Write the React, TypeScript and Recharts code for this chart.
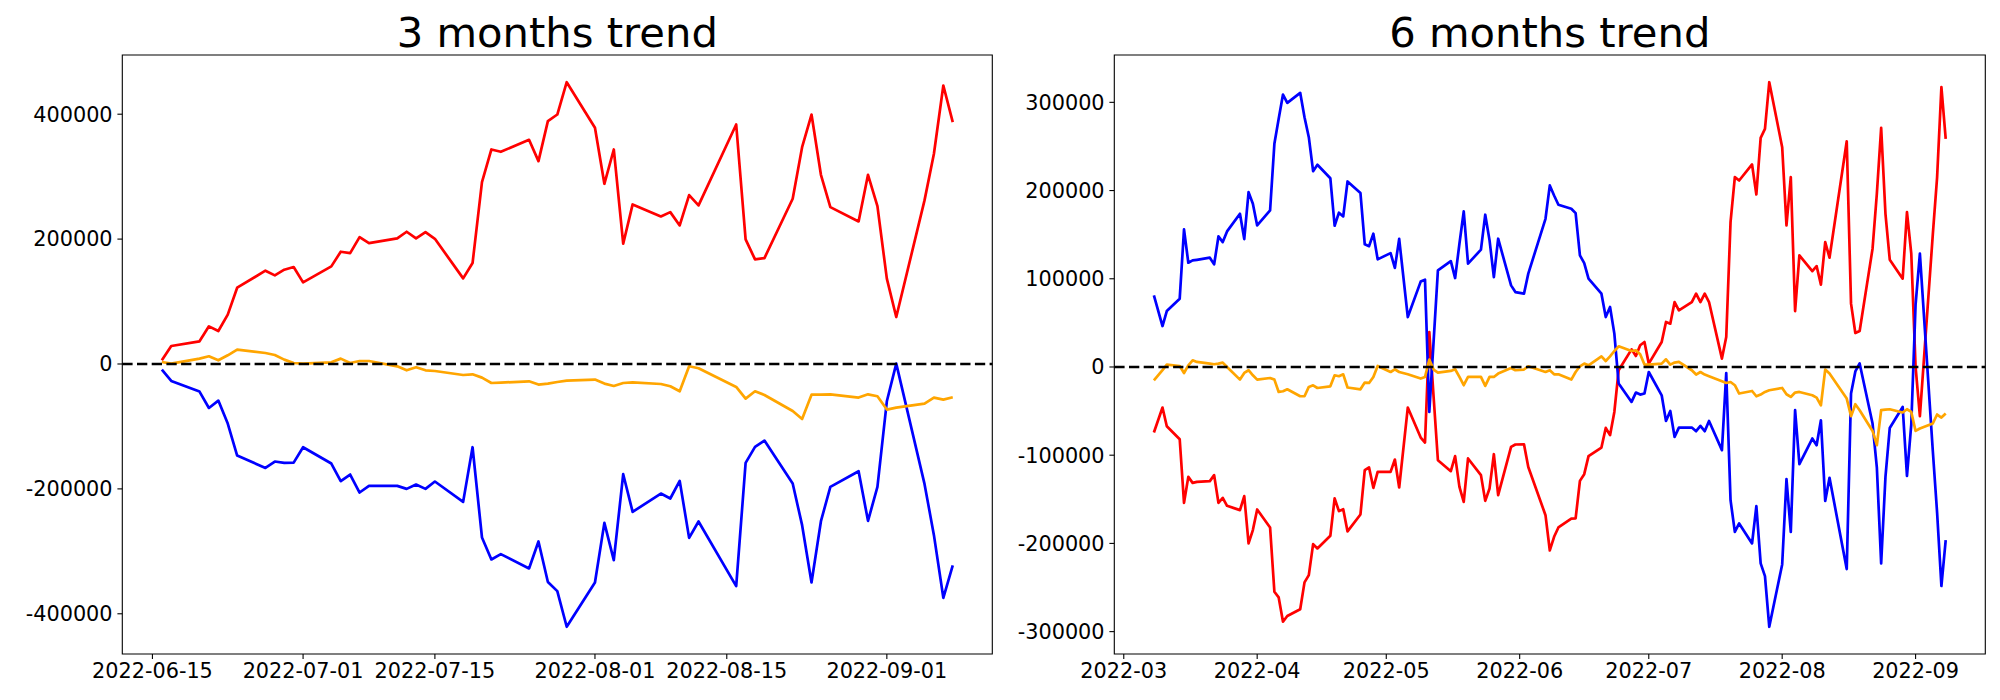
import { LineChart, Line, XAxis, YAxis, ReferenceLine, ReferenceArea } from 'recharts';

// trading days, 3 month window
const dates3m = [
  '2022-06-16', '2022-06-17', '2022-06-20', '2022-06-21', '2022-06-22', '2022-06-23', '2022-06-24',
  '2022-06-27', '2022-06-28', '2022-06-29', '2022-06-30', '2022-07-01', '2022-07-04', '2022-07-05',
  '2022-07-06', '2022-07-07', '2022-07-08', '2022-07-11', '2022-07-12', '2022-07-13', '2022-07-14',
  '2022-07-15', '2022-07-18', '2022-07-19', '2022-07-20', '2022-07-21', '2022-07-22', '2022-07-25',
  '2022-07-26', '2022-07-27', '2022-07-28', '2022-07-29', '2022-08-01', '2022-08-02', '2022-08-03',
  '2022-08-04', '2022-08-05', '2022-08-08', '2022-08-09', '2022-08-10', '2022-08-11', '2022-08-12',
  '2022-08-16', '2022-08-17', '2022-08-18', '2022-08-19', '2022-08-22', '2022-08-23', '2022-08-24',
  '2022-08-25', '2022-08-26', '2022-08-29', '2022-08-30', '2022-08-31', '2022-09-01', '2022-09-02',
  '2022-09-05', '2022-09-06', '2022-09-07', '2022-09-08',
];
const red3m = [
  5900, 28800, 36300, 60300, 52800, 79000, 122200, 149400, 141900, 151000, 155200, 130700,
  156300, 179800, 177600, 203200, 193600, 201100, 211800, 201100, 211000, 200500,
  137100, 161600, 291200, 343500, 339800, 359000, 324800, 389000, 399500, 451200,
  378200, 288600, 343500, 192600, 255500, 236300, 243200, 221900, 270400, 253900,
  383500, 199500, 167500, 169600, 264600, 347200, 399500, 303000, 251200,
  228300, 303000, 252800, 136600, 75200, 262000, 336600, 445900, 387200,
];
const blue3m = [
  -9000, -27200, -44200, -70400, -58600, -95400, -146600, -166400, -156200, -158400, -158000, -133300,
  -159400, -187700, -177000, -205800, -195200, -195200, -200000, -193000, -200000, -188200,
  -220800, -133300, -277800, -313000, -304500, -327400, -284200, -349000, -363700, -420800,
  -349800, -254400, -314100, -176500, -236800, -207400, -215400, -187200, -278400, -252200,
  -355700, -158400, -132800, -122600, -191400, -258100, -349800, -251700, -196800,
  -171700, -251200, -196800, -59700, 600, -192000, -274100, -374400, -322600,
];
const orange3m = [
  3200, 600, 8600, 12300, 5900, 13900, 23000, 17600, 14400, 7000, 1600, 600,
  2700, 8600, 1600, 4800, 4800, -3700, -10100, -5300, -10100, -11200,
  -17600, -16500, -21800, -30400, -29900, -27700, -33000, -31500, -28800, -26600,
  -25000, -31400, -35200, -30400, -29300, -32000, -35700, -43700, -3700, -6900,
  -36800, -55400, -43700, -49600, -75200, -88000, -49100, -49100, -48600,
  -53800, -48600, -51700, -73000, -69800, -63400, -53800, -57000, -53300,
];

// trading days, 6 month window
const dates6m = [
  '2022-03-08', '2022-03-10', '2022-03-11', '2022-03-14', '2022-03-15', '2022-03-16', '2022-03-17',
  '2022-03-18', '2022-03-21', '2022-03-22', '2022-03-23', '2022-03-24', '2022-03-25', '2022-03-28',
  '2022-03-29', '2022-03-30', '2022-03-31',
  '2022-04-01', '2022-04-04', '2022-04-05', '2022-04-06', '2022-04-07', '2022-04-08', '2022-04-11',
  '2022-04-12', '2022-04-13', '2022-04-14', '2022-04-15', '2022-04-18', '2022-04-19', '2022-04-20',
  '2022-04-21', '2022-04-22', '2022-04-25', '2022-04-26', '2022-04-27', '2022-04-28', '2022-04-29',
  '2022-05-02', '2022-05-03', '2022-05-04', '2022-05-06', '2022-05-09', '2022-05-10', '2022-05-11',
  '2022-05-12', '2022-05-13', '2022-05-16', '2022-05-17', '2022-05-18', '2022-05-19', '2022-05-20',
  '2022-05-23', '2022-05-24', '2022-05-25', '2022-05-26', '2022-05-27', '2022-05-30', '2022-05-31',
  '2022-06-02', '2022-06-03', '2022-06-07', '2022-06-08', '2022-06-09', '2022-06-10', '2022-06-13',
  '2022-06-14', '2022-06-15', '2022-06-16', '2022-06-17', '2022-06-20', '2022-06-21', '2022-06-22',
  '2022-06-23', '2022-06-24', '2022-06-27', '2022-06-28', '2022-06-29', '2022-06-30',
  '2022-07-01', '2022-07-04', '2022-07-05', '2022-07-06', '2022-07-07', '2022-07-08', '2022-07-11',
  '2022-07-12', '2022-07-13', '2022-07-14', '2022-07-15', '2022-07-18', '2022-07-19', '2022-07-20',
  '2022-07-21', '2022-07-22', '2022-07-25', '2022-07-26', '2022-07-27', '2022-07-28', '2022-07-29',
  '2022-08-01', '2022-08-02', '2022-08-03', '2022-08-04', '2022-08-05', '2022-08-08', '2022-08-09',
  '2022-08-10', '2022-08-11', '2022-08-12', '2022-08-16', '2022-08-17', '2022-08-18', '2022-08-19',
  '2022-08-22', '2022-08-23', '2022-08-24', '2022-08-25', '2022-08-26', '2022-08-29', '2022-08-30',
  '2022-08-31',
  '2022-09-01', '2022-09-02', '2022-09-05', '2022-09-06', '2022-09-07', '2022-09-08',
];
const red6m = [
  // Mar
  -74300, -46000, -67200, -81900, -154000, -124600, -131400, -130200, -129400, -122600, -154000,
  -148400, -157400, -162300, -146400, -200000, -184900,
  // Apr
  -161500, -181900, -254800, -261200, -288800, -282300, -274700, -244200, -235900, -200800, -205700,
  -191400, -149000, -163400, -161200, -186400, -167200, -117000, -113900, -137000, -118900,
  // May
  -118900, -104900, -136600, -46000, -80000, -85600, 39600, -34000, -105700, -118100, -101100,
  -135900, -152900, -103700, -122600, -151800, -137700, -98900, -145300, -90600, -87900,
  // Jun
  -87600, -113300, -168000, -208000, -192500, -181900, -172000, -171700, -129100, -121500, -101100,
  -91300, -69100, -77300, -51000, -3700, 20000, 12500, 24600, 28300,
  // Jul
  3800, 28300, 51000, 49100, 73600, 64200, 73600, 83100, 73600, 83100, 73600,
  9500, 34000, 164200, 215200, 211400, 229600, 195600, 259800, 270000, 322800,
  // Aug
  249200, 160500, 215200, 63400, 126500, 108700, 114400, 93300, 141600, 123900, 255900,
  71800, 38500, 40800, 134100, 196400, 271100, 173700, 121600, 100100, 175500, 128400,
  // Sep
  0, -55800, 150000, 215000, 317200, 258700,
];
const blue6m = [
  81200, 46400, 63400, 77400, 155900, 118200, 120800, 121500, 123900, 116300, 148000,
  141600, 153700, 173700, 145000, 198200, 185000,
  160500, 177500, 253000, 281300, 308800, 299400, 310800, 283100, 260500, 222000, 229200,
  214000, 160100, 174900, 170700, 210300, 197100, 139000, 137000, 151100, 122000,
  129100, 112300, 145200, 56600, 96800, 99000, -51000, 29000, 109500, 120000, 100800,
  139700, 176300, 117100, 133000, 172600, 143500, 101900, 145400, 92500, 84900,
  83100, 105800, 168000, 205800, 194400, 183900, 179400, 174400, 126500, 117800, 100100,
  83100, 56600, 68000, 37800, -18800, -39600, -29000, -31300, -30100,
  -5700, -32100, -61200, -49800, -79300, -68700, -68700, -72800, -66800, -72800, -61200,
  -94300, -6800, -151000, -186900, -177400, -200000, -157800, -222700, -237100, -294500,
  -223800, -127200, -186900, -49000, -110200, -81100, -88700, -60400, -151800, -125700, -229100,
  -30100, -5000, 4000, -64100, -114000, -222700, -124600, -69100, -45300, -123400, -65000,
  70800, 128600, -95000, -165000, -248300, -196300,
];
const orange6m = [
  -15100, -3700, 2700, 1100, -6800, 1900, 7600, 5700, 3800, 3100, 3800,
  5000, 0, -14300, -6800, -3700, -9400,
  -14300, -12500, -14300, -28300, -27500, -25300, -33200, -33200, -22600, -20800, -23800,
  -21900, -9400, -10500, -8300, -23300, -25300, -17700, -18100, -11300, 1100,
  -5700, -2600, -5700, -8300, -13100, -11300, 8400, -2900, -6300, -4500, -2600,
  -11300, -20700, -11300, -11300, -21500, -11300, -11300, -7500, -1100, -3700,
  -2900, 800, -5700, -3700, -8300, -8300, -14300, -5700, 800, 3800, 1900,
  12100, 6800, 12100, 18100, 23400, 18100, 18900, 14400, 2700,
  2700, 3800, 8700, 2700, 5000, 5700, -3700, -8600, -5700, -8600, -10500,
  -16200, -18100, -17000, -20700, -30100, -27200, -33200, -31300, -28300, -26400,
  -23800, -30900, -34000, -29000, -28300, -32100, -34700, -43400, -2900, -7500, -35800,
  -55800, -42200, -49000, -72500, -88700, -49000, -48300, -47900, -51600, -47900, -51000,
  -72500, -69800, -64100, -53900, -57300, -52800,
];

const xTicks3m = ['2022-06-15', '2022-07-01', '2022-07-15', '2022-08-01', '2022-08-15', '2022-09-01'];
const xTicks6m = ['2022-03-01', '2022-04-01', '2022-05-01', '2022-06-01', '2022-07-01', '2022-08-01', '2022-09-01'];
const yTicks3m = [-400000, -200000, 0, 200000, 400000];
const yTicks6m = [-300000, -200000, -100000, 0, 100000, 200000, 300000];

const FONT = 'DejaVu Sans';
const DAY = 86400000;

const toDay = (s: string) => Date.UTC(+s.slice(0, 4), +s.slice(5, 7) - 1, +s.slice(8, 10)) / DAY;
const dayLabel = (len: number) => (v: number) => new Date(Math.round(v) * DAY).toISOString().slice(0, len);

// matplotlib style 5% margins
const padded = (vals: number[]): [number, number] => {
  const lo = Math.min(...vals);
  const hi = Math.max(...vals);
  const m = (hi - lo) * 0.05;
  return [lo - m, hi + m];
};

interface PanelProps {
  title: string;
  dates: string[];
  red: number[];
  blue: number[];
  orange: number[];
  xTicks: string[];
  labelLen: number;
  yTicks: number[];
  left: number;
  yAxisWidth: number;
  rightMargin: number;
}

const TrendPanel = ({ title, dates, red, blue, orange, xTicks, labelLen, yTicks, left, yAxisWidth, rightMargin }: PanelProps) => {
  const rows = dates.map((d, i) => ({ x: toDay(d), red: red[i], blue: blue[i], orange: orange[i] }));
  const xDomain = padded(rows.map(r => r.x));
  const yDomain = padded([...red, ...blue, ...orange]);
  const plotLeft = yAxisWidth;
  const plotWidth = 1000 - yAxisWidth - rightMargin;
  const tickStyle = { fill: '#000', fontSize: 20.8, fontFamily: FONT };

  return (
    <div style={{ position: 'absolute', left, top: 0, width: 1000, height: 700 }}>
      <LineChart width={1000} height={700} data={rows} margin={{ top: 55, right: rightMargin, left: 0, bottom: 0 }}>
        <XAxis
          dataKey="x"
          type="number"
          domain={xDomain}
          allowDataOverflow
          ticks={xTicks.map(toDay)}
          interval={0}
          tickFormatter={dayLabel(labelLen)}
          height={46}
          axisLine={false}
          tickLine={{ stroke: '#000', strokeWidth: 1.1 }}
          tickSize={4.9}
          tickMargin={4.8}
          tick={tickStyle}
        />
        <YAxis
          type="number"
          domain={yDomain}
          allowDataOverflow
          ticks={yTicks}
          interval={0}
          width={yAxisWidth}
          axisLine={false}
          tickLine={{ stroke: '#000', strokeWidth: 1.1 }}
          tickSize={4.9}
          tickMargin={4.8}
          tick={tickStyle}
        />
        <Line type="linear" dataKey="red" stroke="#ff0000" strokeWidth={2.7} strokeLinejoin="round" dot={false} isAnimationActive={false} />
        <Line type="linear" dataKey="blue" stroke="#0000ff" strokeWidth={2.7} strokeLinejoin="round" dot={false} isAnimationActive={false} />
        <Line type="linear" dataKey="orange" stroke="#ffa500" strokeWidth={2.7} strokeLinejoin="round" dot={false} isAnimationActive={false} />
        <ReferenceLine y={0} stroke="#000" strokeWidth={2.7} strokeDasharray="10.3 4.4" />
        <ReferenceArea
          x1={xDomain[0]}
          x2={xDomain[1]}
          y1={yDomain[0]}
          y2={yDomain[1]}
          fill="none"
          fillOpacity={0}
          stroke="#000"
          strokeWidth={1.1}
          ifOverflow="visible"
        />
      </LineChart>
      <svg width={1000} height={700} style={{ position: 'absolute', left: 0, top: 0, pointerEvents: 'none' }}>
        <text x={plotLeft + plotWidth / 2} y={46.7} textAnchor="middle" fontSize={41.7} fontFamily={FONT} fill="#000">
          {title}
        </text>
      </svg>
    </div>
  );
};

export default function App() {
  return (
    <div style={{ position: 'absolute', left: 0, top: 0, width: 2000, height: 700, background: '#fff' }}>
      <TrendPanel
        title="3 months trend"
        dates={dates3m}
        red={red3m}
        blue={blue3m}
        orange={orange3m}
        xTicks={xTicks3m}
        labelLen={10}
        yTicks={yTicks3m}
        left={0}
        yAxisWidth={122.3}
        rightMargin={7.7}
      />
      <TrendPanel
        title="6 months trend"
        dates={dates6m}
        red={red6m}
        blue={blue6m}
        orange={orange6m}
        xTicks={xTicks6m}
        labelLen={7}
        yTicks={yTicks6m}
        left={1000}
        yAxisWidth={114.3}
        rightMargin={14.7}
      />
    </div>
  );
}
